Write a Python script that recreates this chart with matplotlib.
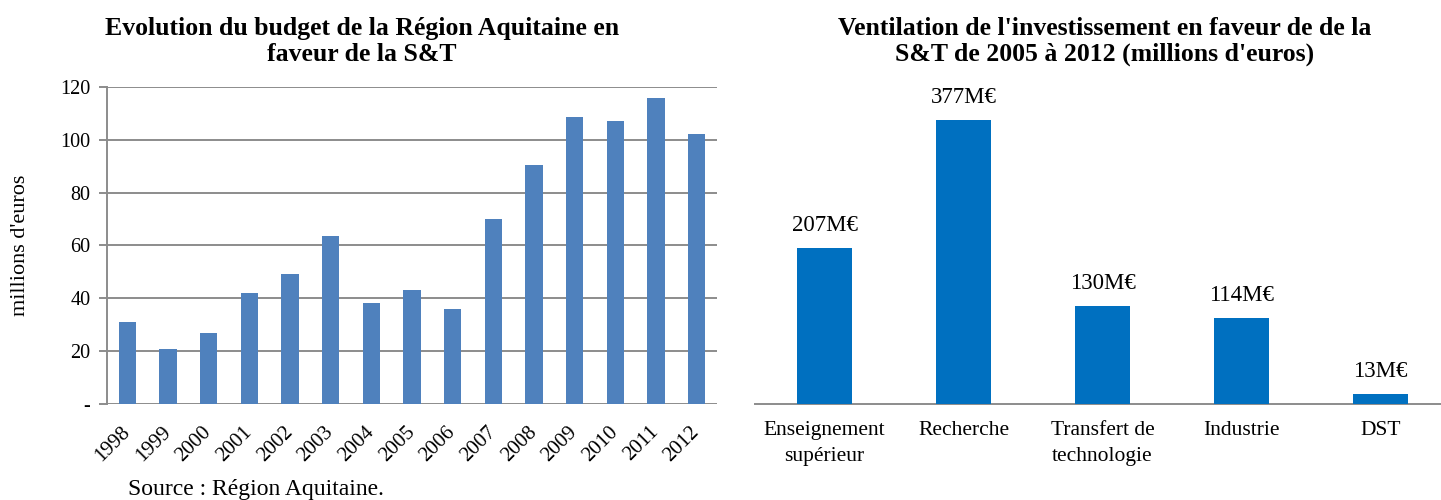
import matplotlib
matplotlib.use("Agg")
import matplotlib.pyplot as plt

plt.rcParams['font.family'] = ['Liberation Serif', 'DejaVu Serif']

years = ["1998", "1999", "2000", "2001", "2002", "2003", "2004", "2005",
         "2006", "2007", "2008", "2009", "2010", "2011", "2012"]
budget = [31, 21, 27, 42, 49.3, 63.5, 38.2, 43, 35.8, 70, 90.3, 108.7, 107, 116, 102.3]
yticks = [0, 20, 40, 60, 80, 100, 120]
ytick_labels = ["-", "20", "40", "60", "80", "100", "120"]

categories = ["Enseignement\nsupérieur", "Recherche", "Transfert de\ntechnologie",
              "Industrie", "DST"]
invest = [207, 377, 130, 114, 13]
invest_labels = ["207M€", "377M€", "130M€", "114M€", "13M€"]

W, H = 1441, 500
fig = plt.figure(figsize=(W / 100, H / 100), dpi=100)
grid_c = "#8c8c8c"

# Left chart
ax1 = fig.add_axes([107 / W, (H - 404) / H, (717 - 107) / W, 317 / H])
x1 = list(range(len(years)))
ax1.bar(x1, budget, width=0.43, color="#4F81BD", zorder=3)
ax1.set_xlim(-0.5, len(years) - 0.5)
ax1.set_ylim(0, 120)
ax1.set_yticks(yticks)
ax1.set_yticklabels(ytick_labels, fontsize=14.5)
ax1.yaxis.grid(True, color=grid_c, linewidth=1.4, zorder=0)
for s in ["top", "right", "bottom"]:
    ax1.spines[s].set_visible(False)
ax1.spines["left"].set_color(grid_c)
ax1.spines["left"].set_linewidth(1.4)
ax1.tick_params(axis="y", length=6, width=1.4, color=grid_c, pad=6)
ax1.tick_params(axis="x", length=0, pad=18)
ax1.set_xticks(x1)
ax1.set_xticklabels(years, fontsize=15, rotation=45, ha="right", va="center",
                    rotation_mode="anchor")
ax1.set_ylabel("millions d'euros", fontsize=16, labelpad=22)
fig.text(362 / W, 1 - 41.5 / H,
         "Evolution du budget de la Région Aquitaine en\nfaveur de la S&T",
         fontsize=18.5, fontweight="bold", ha="center", va="center", linespacing=1.15)
fig.text(128 / W, 1 - 490 / H, "Source : Région Aquitaine.", fontsize=17,
         ha="left", va="center")

# Right chart
ax2 = fig.add_axes([755 / W, (H - 404) / H, (1450 - 755) / W, 317 / H])
x2 = list(range(len(categories)))
bars = ax2.bar(x2, invest, width=0.4, color="#0070C0", zorder=3)
ax2.set_xlim(-0.5, len(categories) - 0.5)
ax2.set_ylim(0, 317 / 0.753)
ax2.set_yticks([])
for s in ["top", "right", "left"]:
    ax2.spines[s].set_visible(False)
ax2.spines["bottom"].set_color(grid_c)
ax2.spines["bottom"].set_linewidth(1.4)
ax2.set_xticks(x2)
ax2.set_xticklabels(categories, fontsize=15.5, linespacing=1.5)
ax2.tick_params(axis="x", length=0, pad=12)
for b, lab in zip(bars, invest_labels):
    ax2.annotate(lab, (b.get_x() + b.get_width() / 2, b.get_height()),
                 xytext=(0, 9), textcoords="offset points",
                 ha="center", va="bottom", fontsize=16.5)
fig.text(1105 / W, 1 - 41.5 / H,
         "Ventilation de l'investissement en faveur de de la\nS&T de 2005 à 2012 (millions d'euros)",
         fontsize=18.5, fontweight="bold", ha="center", va="center", linespacing=1.15)

fig.savefig("out.png", dpi=100)
